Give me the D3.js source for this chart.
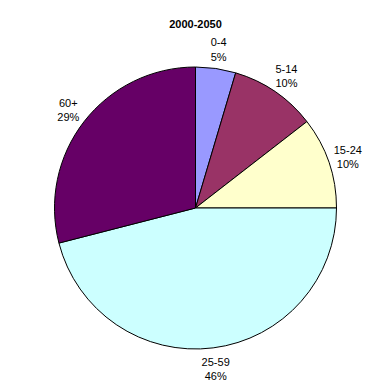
<!DOCTYPE html>
<html>
<head>
<meta charset="utf-8">
<script src="https://cdn.jsdelivr.net/npm/d3@7"></script>
<style>
  body { margin: 0; background: #fff; }
  text { font-family: "Liberation Sans", Arial, sans-serif; }
</style>
</head>
<body>
<svg id="chart" width="390" height="390"></svg>
<script>
// age groups, share of growth 2000-2050 (%)
const categories = ["0-4", "5-14", "15-24", "25-59", "60+"];
const values = [4.6, 9.9, 10.5, 46, 29];
const labels = ["5%", "10%", "10%", "46%", "29%"];
const colors = ["#9999FF", "#993366", "#FFFFCC", "#CCFFFF", "#660066"];
const title = "2000-2050";

const width = 390, height = 390;
const cx = 195.5, cy = 208, radius = 141;

const svg = d3.select("#chart");

svg.append("text")
    .attr("x", cx)
    .attr("y", 28)
    .attr("text-anchor", "middle")
    .attr("font-size", "11px")
    .attr("font-weight", "bold")
    .text(title);

let pie = d3.pie().sort(null).value(d => d);
let arcs = pie(values);

let arc = d3.arc().innerRadius(0).outerRadius(radius);
let labelArc = d3.arc().innerRadius(161).outerRadius(161);

let g = svg.append("g")
    .attr("transform", "translate(" + cx + "," + cy + ")");

g.selectAll("path")
    .data(arcs)
    .enter().append("path")
    .attr("d", arc)
    .attr("fill", (d, i) => colors[i])
    .attr("stroke", "#000")
    .attr("stroke-width", 1);

// labels
let lbl = g.selectAll(".lbl")
    .data(arcs)
    .enter().append("text")
    .attr("class", "lbl")
    .attr("text-anchor", "middle")
    .attr("font-size", "11px")
    .attr("fill", "#000")
    .attr("transform", d => "translate(" + labelArc.centroid(d) + ")");

lbl.append("tspan")
    .attr("x", 0)
    .attr("dy", "-0.2em")
    .text((d, i) => categories[i]);

lbl.append("tspan")
    .attr("x", 0)
    .attr("dy", "1.3em")
    .text((d, i) => labels[i]);
</script>
</body>
</html>
